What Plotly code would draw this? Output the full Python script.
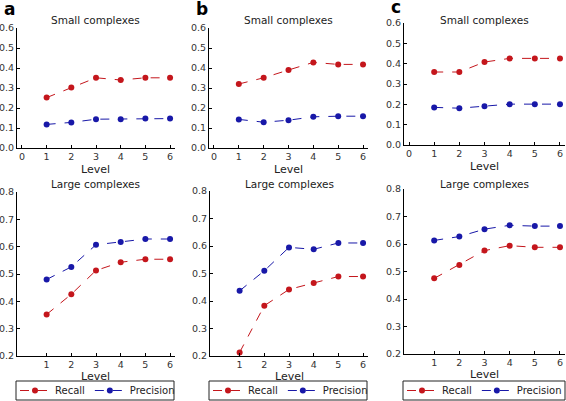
import plotly.graph_objects as go

levels_small = [0, 1, 2, 3, 4, 5, 6]
levels = [1, 2, 3, 4, 5, 6]

a_small_recall = [0.252, 0.302, 0.351, 0.340, 0.351, 0.351]
a_small_precision = [0.118, 0.128, 0.144, 0.144, 0.147, 0.147]
b_small_recall = [0.320, 0.351, 0.390, 0.428, 0.418, 0.418]
b_small_precision = [0.143, 0.129, 0.139, 0.156, 0.159, 0.159]
c_small_recall = [0.359, 0.359, 0.408, 0.426, 0.426, 0.426]
c_small_precision = [0.185, 0.181, 0.191, 0.201, 0.201, 0.201]

a_large_recall = [0.352, 0.426, 0.513, 0.543, 0.554, 0.554]
a_large_precision = [0.480, 0.526, 0.607, 0.617, 0.628, 0.628]
b_large_recall = [0.213, 0.383, 0.442, 0.465, 0.489, 0.489]
b_large_precision = [0.437, 0.510, 0.595, 0.588, 0.611, 0.611]
c_large_recall = [0.475, 0.524, 0.576, 0.594, 0.588, 0.588]
c_large_precision = [0.613, 0.627, 0.654, 0.668, 0.665, 0.665]

panel_letters = ["a", "b", "c"]
small_title = "Small complexes"
large_title = "Large complexes"
x_title = "Level"
series_names = ["Recall", "Precision"]

RED = "#c4161c"
BLUE = "#1818a8"
FONT = "DejaVu Sans"
W, H = 566, 401

def px_x(p):
    return p / W

def px_y(p):
    return 1 - p / H

# pixel boxes (left, right, top, bottom)
boxes_top = [(17, 175, 28, 148), (209, 368, 28, 148), (404, 565, 23, 145)]
boxes_bot = [(17, 175, 192, 356), (210, 368, 191, 356), (404, 565, 189, 354)]
legend_frames = [(16, 174), (209, 367), (403, 565)]
letter_y = [9, 9, 7]

small = [(a_small_recall, a_small_precision), (b_small_recall, b_small_precision), (c_small_recall, c_small_precision)]
large = [(a_large_recall, a_large_precision), (b_large_recall, b_large_precision), (c_large_recall, c_large_precision)]

fig = go.Figure()
layout = dict(
    width=W, height=H, margin=dict(l=0, r=0, t=0, b=0, autoexpand=False),
    paper_bgcolor="white", plot_bgcolor="white",
    font=dict(family=FONT, size=10, color="#222"),
    annotations=[], shapes=[],
)

ax_style = dict(showgrid=False, zeroline=False, showline=True, linecolor="black", linewidth=1,
                ticks="inside", ticklen=3, tickcolor="black", mirror=False,
                tickfont=dict(family=FONT, size=9.5, color="#333"))

def ann(text, x, y, size, xanchor="center", color="#222"):
    return dict(text=text, x=x, y=y, xref="paper", yref="paper", showarrow=False,
                font=dict(family=FONT, size=size, color=color), xanchor=xanchor, yanchor="middle")

legend_names = ["legend", "legend2", "legend3"]
for i in range(3):
    # top panel
    n = 2 * i + 1
    xa = "x" if n == 1 else f"x{n}"
    ya = "y" if n == 1 else f"y{n}"
    l, r, t, b = boxes_top[i]
    layout["xaxis" if n == 1 else f"xaxis{n}"] = dict(domain=[px_x(l), px_x(r)], range=[-0.2, 6.2],
        tickvals=levels_small, anchor=ya, **ax_style)
    layout["yaxis" if n == 1 else f"yaxis{n}"] = dict(domain=[px_y(b), px_y(t)], range=[0, 0.6],
        tickvals=[0, 0.1, 0.2, 0.3, 0.4, 0.5, 0.6], tickformat=".1f", anchor=xa, **ax_style)
    rec, prec = small[i]
    fig.add_trace(go.Scatter(x=levels, y=rec, mode="lines+markers", name=series_names[0],
        line=dict(color=RED, width=1, dash="dash"), marker=dict(color=RED, size=6),
        xaxis=xa, yaxis=ya, showlegend=False))
    fig.add_trace(go.Scatter(x=levels, y=prec, mode="lines+markers", name=series_names[1],
        line=dict(color=BLUE, width=1, dash="dash"), marker=dict(color=BLUE, size=6),
        xaxis=xa, yaxis=ya, showlegend=False))
    cx = (px_x(l) + px_x(r)) / 2
    layout["annotations"].append(ann(small_title, cx, px_y(20), 10.5))
    layout["annotations"].append(ann(x_title, cx, px_y(b + 21), 11))
    layout["annotations"].append(ann("<b>" + panel_letters[i] + "</b>", px_x(l - 15), px_y(letter_y[i]), 17,
                                     xanchor="left", color="black"))

    # bottom panel
    n = 2 * i + 2
    xa = f"x{n}"
    ya = f"y{n}"
    l, r, t, b = boxes_bot[i]
    layout[f"xaxis{n}"] = dict(domain=[px_x(l), px_x(r)], range=[-0.2, 6.2],
        tickvals=levels, anchor=ya, **ax_style)
    layout[f"yaxis{n}"] = dict(domain=[px_y(b), px_y(t)], range=[0.2, 0.8],
        tickvals=[0.2, 0.3, 0.4, 0.5, 0.6, 0.7, 0.8], tickformat=".1f", anchor=xa, **ax_style)
    rec, prec = large[i]
    lg = legend_names[i]
    fig.add_trace(go.Scatter(x=levels, y=rec, mode="lines+markers", name=series_names[0],
        line=dict(color=RED, width=1, dash="dash"), marker=dict(color=RED, size=6),
        xaxis=xa, yaxis=ya, legend=lg))
    fig.add_trace(go.Scatter(x=levels, y=prec, mode="lines+markers", name=series_names[1],
        line=dict(color=BLUE, width=1, dash="dash"), marker=dict(color=BLUE, size=6),
        xaxis=xa, yaxis=ya, legend=lg))
    cx = (px_x(l) + px_x(r)) / 2
    layout["annotations"].append(ann(large_title, cx, px_y(184), 10.5))
    layout["annotations"].append(ann(x_title, cx, px_y(b + 20), 11))
    fl, fr = legend_frames[i]
    layout[lg] = dict(orientation="h", x=px_x(fl - 1), y=px_y(390.5), xanchor="left", yanchor="middle",
        borderwidth=0, bgcolor="rgba(0,0,0,0)", font=dict(family=FONT, size=10, color="#222"),
        itemwidth=30, tracegroupgap=0)
    layout["shapes"].append(dict(type="rect", xref="paper", yref="paper",
        x0=px_x(fl), x1=px_x(fr), y0=px_y(400), y1=px_y(381),
        line=dict(color="#222", width=1), fillcolor="rgba(0,0,0,0)"))

fig.update_layout(**layout)
fig.write_html("out.html", config={"displayModeBar": False},
               post_script="document.body.style.margin='0px';")
